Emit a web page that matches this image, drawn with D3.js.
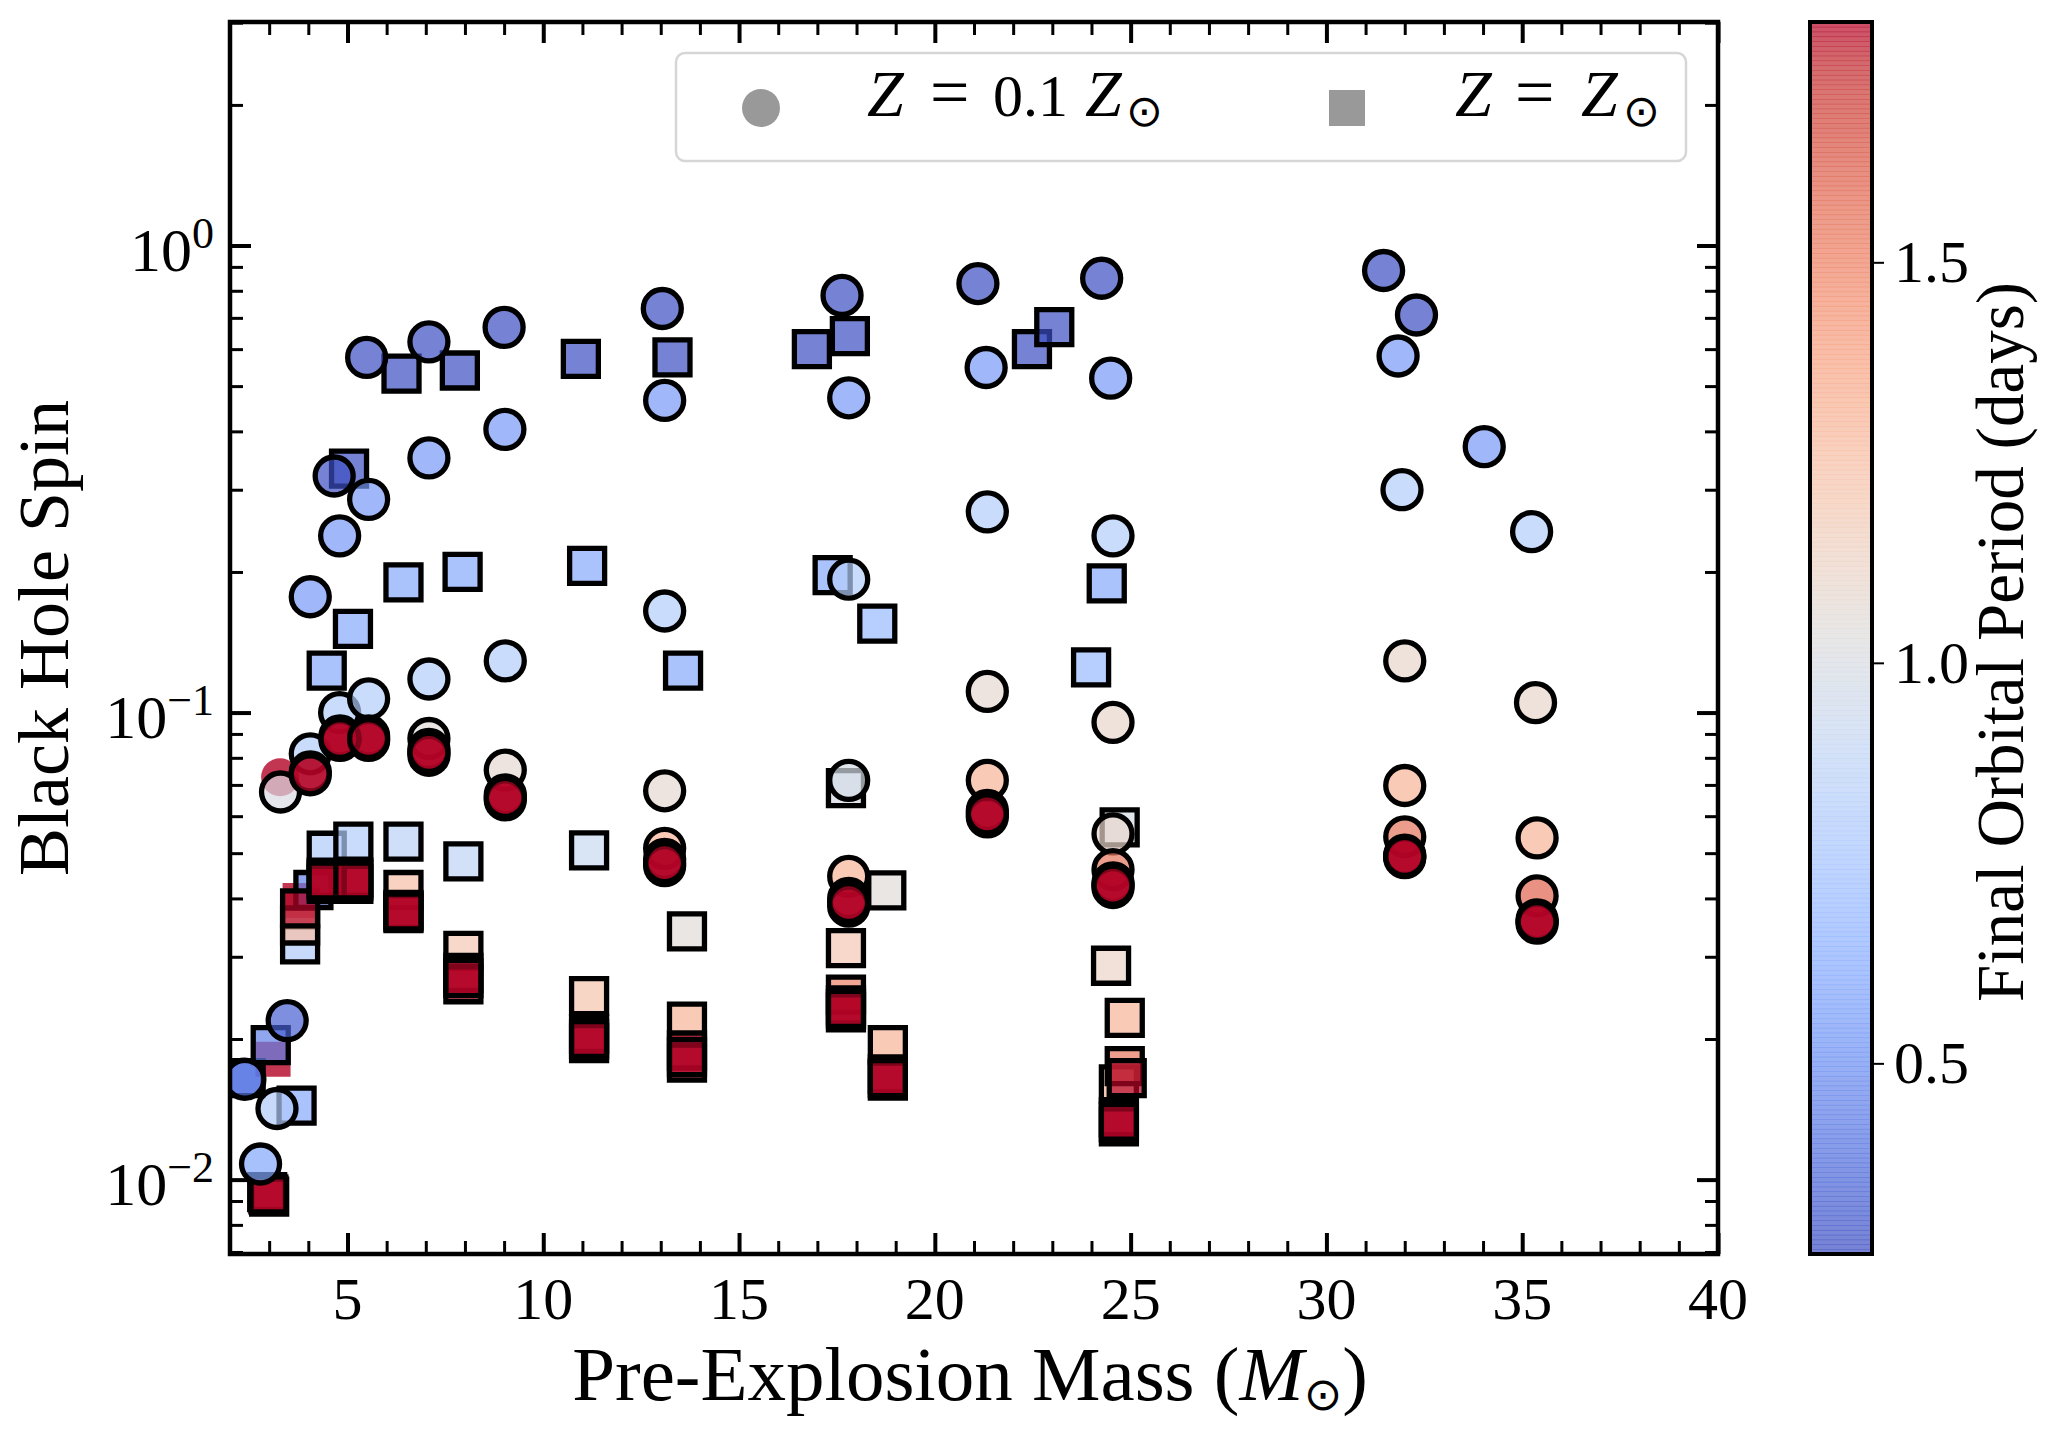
<!DOCTYPE html>
<html>
<head>
<meta charset="utf-8">
<script src="https://cdn.jsdelivr.net/npm/d3@7"></script>
<style>
  html, body { margin: 0; padding: 0; background: #ffffff; }
  svg { display: block; font-family: "Liberation Serif", "Times New Roman", serif; }
</style>
</head>
<body>
<div id="chart"></div>
<script>
// Z = 0.1 Zsun runs (circles)
const lowZMass = [2.38, 2.78, 3.20, 3.46, 3.29, 4.05, 4.05, 4.05, 4.05, 4.66, 4.80, 4.80, 4.81, 4.81,
  5.49, 5.54, 5.54, 5.54, 5.54, 7.08, 7.08, 7.08, 7.08, 7.08, 7.08, 9.00, 9.02, 9.03, 9.03, 9.03, 9.03,
  13.04, 13.10, 13.10, 13.10, 13.10, 13.10, 13.10, 17.63, 17.80, 17.80, 17.80, 17.80, 17.80, 17.80,
  21.10, 21.31, 21.34, 21.34, 21.34, 21.34, 21.34, 24.26, 24.49, 24.55, 24.55, 24.55, 24.55, 24.55, 24.55,
  31.46, 32.30, 31.83, 31.93, 32.00, 32.00, 32.00, 32.00, 32.00, 34.03, 35.24, 35.34, 35.38, 35.38, 35.38, 35.38,
  4.81, 5.54, 7.08, 9.03, 13.10, 17.80, 21.34, 24.55, 32.00, 35.38];
const lowZSpin = [0.0164, 0.0108, 0.0142, 0.0219, 0.0676, 0.0816, 0.0746, 0.0736, 0.177, 0.321, 0.239, 0.100, 0.0891, 0.0872,
  0.576, 0.286, 0.107, 0.0891, 0.0872, 0.622, 0.351, 0.118, 0.0880, 0.0834, 0.0810, 0.668, 0.404, 0.129, 0.0753, 0.0666, 0.0650,
  0.733, 0.466, 0.165, 0.0680, 0.0512, 0.0485, 0.0470, 0.782, 0.472, 0.193, 0.0716, 0.0446, 0.0400, 0.0385,
  0.829, 0.548, 0.269, 0.111, 0.0716, 0.0617, 0.0598, 0.851, 0.520, 0.239, 0.0953, 0.0550, 0.0461, 0.0432, 0.0422,
  0.884, 0.710, 0.580, 0.300, 0.129, 0.0698, 0.0542, 0.0495, 0.0489, 0.371, 0.244, 0.105, 0.0539, 0.0405, 0.0360, 0.0354,
  0.0880, 0.0880, 0.0822, 0.0658, 0.0477, 0.0392, 0.0607, 0.0427, 0.0492, 0.0357];
const lowZPeriod = [0.40, 0.60, 0.80, 0.33, 1.00, 0.82, 1.85, 1.85, 0.55, 0.27, 0.55, 0.82, 1.85, 1.85,
  0.27, 0.55, 0.82, 1.85, 1.85, 0.27, 0.55, 0.82, 1.05, 1.85, 1.85, 0.27, 0.55, 0.82, 1.08, 1.85, 1.85,
  0.27, 0.55, 0.82, 1.08, 1.30, 1.85, 1.85, 0.27, 0.55, 0.82, 0.98, 1.30, 1.85, 1.85,
  0.27, 0.55, 0.82, 1.08, 1.30, 1.85, 1.85, 0.27, 0.55, 0.82, 1.10, 1.10, 1.55, 1.85, 1.85,
  0.27, 0.27, 0.55, 0.82, 1.10, 1.30, 1.55, 1.85, 1.85, 0.55, 0.82, 1.10, 1.30, 1.60, 1.85, 1.85,
  1.85, 1.85, 1.85, 1.85, 1.85, 1.85, 1.85, 1.85, 1.85, 1.85];

// Z = Zsun runs (squares)
const solarMass = [2.40, 3.04, 3.70, 2.95, 3.00, 3.79, 3.79, 3.79, 4.13, 4.47, 4.47, 4.47, 5.15, 5.15, 5.15,
  4.47, 5.14, 5.04, 6.38, 6.43, 6.43, 6.43, 6.43, 6.43, 7.87, 7.94, 7.96, 7.96, 7.96, 7.96,
  10.96, 11.12, 11.17, 11.17, 11.17, 11.17, 13.30, 13.57, 13.67, 13.67, 13.67, 13.67,
  16.86, 17.83, 17.39, 18.53, 17.73, 18.76, 17.73, 17.73, 17.73, 17.73, 18.80, 18.80, 18.80,
  22.48, 23.05, 24.39, 23.99, 24.72, 24.50, 24.85, 24.70, 24.85, 24.90, 24.70, 24.70,
  2.98, 4.47, 5.15, 6.43, 7.96, 11.17, 13.67, 17.73, 18.80, 24.70];
const solarSpin = [0.0165, 0.0194, 0.0144, 0.0094, 0.0092, 0.0319, 0.0350, 0.0381, 0.0417, 0.0506, 0.0443, 0.0430, 0.0529, 0.0443, 0.0430,
  0.123, 0.151, 0.333, 0.532, 0.190, 0.0529, 0.0417, 0.0378, 0.0372, 0.540, 0.200, 0.0480, 0.0309, 0.0277, 0.0262,
  0.572, 0.206, 0.0507, 0.0247, 0.0205, 0.0196, 0.576, 0.123, 0.0340, 0.0218, 0.0189, 0.0178,
  0.600, 0.640, 0.197, 0.155, 0.0689, 0.0416, 0.0313, 0.0249, 0.0236, 0.0228, 0.0194, 0.0168, 0.0163,
  0.600, 0.669, 0.189, 0.125, 0.0568, 0.0287, 0.0222, 0.0160, 0.0175, 0.0165, 0.0136, 0.0130,
  0.0093, 0.0437, 0.0437, 0.0375, 0.0270, 0.0200, 0.0183, 0.0232, 0.0165, 0.0133];
const solarPeriod = [0.45, 0.45, 0.62, 1.85, 1.85, 0.80, 1.25, 1.85, 0.45, 0.80, 1.85, 1.85, 0.82, 1.85, 1.85,
  0.62, 0.62, 0.27, 0.27, 0.62, 0.85, 1.25, 1.85, 1.85, 0.27, 0.62, 0.88, 1.20, 1.85, 1.85,
  0.27, 0.62, 0.92, 1.22, 1.85, 1.85, 0.27, 0.62, 1.05, 1.30, 1.85, 1.85,
  0.27, 0.27, 0.62, 0.70, 0.98, 1.05, 1.20, 1.50, 1.85, 1.85, 1.30, 1.85, 1.85,
  0.27, 0.27, 0.62, 0.70, 0.98, 1.12, 1.30, 1.30, 1.55, 1.85, 1.85, 1.85,
  1.85, 1.85, 1.85, 1.85, 1.85, 1.85, 1.85, 1.85, 1.85, 1.85];

// a few markers drawn without an edge
const bareMass = [3.28, 3.10, 3.79];
const bareSpin = [0.0727, 0.0181, 0.0396];
const barePeriod = [1.85, 1.85, 1.85];
const bareShape = ["circle", "square", "square"];

// ticks
const massTicks = [5, 10, 15, 20, 25, 30, 35, 40];
const spinTicks = [0.01, 0.1, 1];
const spinTickExponents = ["\u22122", "\u22121", "0"];
const periodTicks = [0.5, 1.0, 1.5];

// colour map stops (matplotlib coolwarm)
const coolwarmStops = ["#3b4cc0", "#445acc", "#4d68d7", "#5775e1", "#6282ea", "#6c8ff1", "#779af7", "#82a6fb",
  "#8db0fe", "#98b9ff", "#a3c2fe", "#aec9fc", "#b8d0f9", "#c2d5f4", "#ccd9ee", "#d5dbe5", "#dddddd",
  "#e5d8d1", "#ecd3c5", "#f1ccb9", "#f5c4ad", "#f7bba0", "#f7b194", "#f7a687", "#f49a7b", "#f18d6f",
  "#ec7f63", "#e57058", "#de614d", "#d55042", "#cb3e38", "#c0282f", "#b40426"];
const periodMin = 0.262, periodMax = 1.80;

const W = 2059, H = 1439;
const plot = { left: 230, right: 1718, top: 22, bottom: 1254 };
const cbar = { left: 1810, right: 1872 };
const alpha = 0.7;
const fontFamily = '"Liberation Serif", "Times New Roman", serif';

const svg = d3.select("#chart").append("svg").attr("width", W).attr("height", H);

const x = d3.scaleLinear().domain([2, 40]).range([plot.left, plot.right]);
const y = d3.scaleLog().domain([0.00693, 3.01]).range([plot.bottom, plot.top]);
const cb = d3.scaleLinear().domain([periodMin, periodMax]).range([plot.bottom, plot.top]);
const color = d3.scaleLinear()
  .domain(coolwarmStops.map((_, i) => periodMin + (periodMax - periodMin) * i / (coolwarmStops.length - 1)))
  .range(coolwarmStops)
  .interpolate(d3.interpolateRgb)
  .clamp(true);

const toRows = (mass, spin, period, shape) =>
  mass.map((m, i) => ({ mass: m, spin: spin[i], period: period[i], shape: typeof shape === "string" ? shape : shape[i] }));

const lowZ = toRows(lowZMass, lowZSpin, lowZPeriod, "circle").sort((a, b) => a.period - b.period);
const solar = toRows(solarMass, solarSpin, solarPeriod, "square").sort((a, b) => a.period - b.period);
const bare = toRows(bareMass, bareSpin, barePeriod, bareShape);

const circleR = 19, squareSide = 35, edge = 5.3;
const symbolPath = (shape) =>
  shape === "circle"
    ? d3.symbol(d3.symbolCircle, Math.PI * circleR * circleR)()
    : d3.symbol(d3.symbolSquare, squareSide * squareSide)();

svg.append("clipPath").attr("id", "plot-clip")
  .append("rect").attr("x", plot.left).attr("y", plot.top)
  .attr("width", plot.right - plot.left).attr("height", plot.bottom - plot.top);

const marks = svg.append("g").attr("clip-path", "url(#plot-clip)");

function drawMarkers(rows, cls, withEdge) {
  marks.append("g").attr("class", cls)
    .selectAll("path")
    .data(rows)
    .join("path")
    .attr("d", (d) => symbolPath(d.shape))
    .attr("transform", (d) => `translate(${x(d.mass)},${y(d.spin)})`)
    .attr("fill", (d) => color(d.period))
    .attr("fill-opacity", withEdge ? alpha : 0.8)
    .attr("stroke", withEdge ? "#000" : "none")
    .attr("stroke-width", edge);
}

drawMarkers(bare, "bare", false);
drawMarkers(solar, "solar", true);
drawMarkers(lowZ, "lowz", true);

// ticks (inward on all four sides)
const majorLen = 21, minorLen = 13;
const massMinor = d3.range(3, 40).filter((v) => v % 5 !== 0);
const spinMinor = [];
[-3, -2, -1, 0].forEach((p) => d3.range(2, 10).forEach((k) => {
  const v = k * Math.pow(10, p);
  if (v > y.domain()[0] && v < y.domain()[1]) spinMinor.push(v);
}));

function tickAxis(axis, transform, ticks, len, width) {
  const g = svg.append("g").attr("transform", transform)
    .call(axis.tickValues(ticks).tickSizeInner(-len).tickSizeOuter(0).tickFormat(""));
  g.select(".domain").remove();
  g.selectAll(".tick line").attr("stroke", "#000").attr("stroke-width", width);
  return g;
}

tickAxis(d3.axisBottom(x), `translate(0,${plot.bottom})`, massMinor, minorLen, 3);
tickAxis(d3.axisBottom(x), `translate(0,${plot.bottom})`, massTicks, majorLen, 4);
tickAxis(d3.axisTop(x), `translate(0,${plot.top})`, massMinor, minorLen, 3);
tickAxis(d3.axisTop(x), `translate(0,${plot.top})`, massTicks, majorLen, 4);
tickAxis(d3.axisLeft(y), `translate(${plot.left},0)`, spinMinor, minorLen, 3);
tickAxis(d3.axisLeft(y), `translate(${plot.left},0)`, spinTicks, majorLen, 4);
tickAxis(d3.axisRight(y), `translate(${plot.right},0)`, spinMinor, minorLen, 3);
tickAxis(d3.axisRight(y), `translate(${plot.right},0)`, spinTicks, majorLen, 4);

// frame
svg.append("rect")
  .attr("x", plot.left).attr("y", plot.top)
  .attr("width", plot.right - plot.left).attr("height", plot.bottom - plot.top)
  .attr("fill", "none").attr("stroke", "#000").attr("stroke-width", 4.5);

// x tick labels
svg.append("g").selectAll("text")
  .data(massTicks)
  .join("text")
  .attr("x", (d) => x(d))
  .attr("y", plot.bottom + 65)
  .attr("text-anchor", "middle")
  .attr("font-size", 60)
  .attr("fill", "#000")
  .text((d) => d);

// y tick labels 10^n
const yLabels = svg.append("g").selectAll("text")
  .data(spinTicks)
  .join("text")
  .attr("x", plot.left - 16)
  .attr("y", (d) => y(d) + 25)
  .attr("text-anchor", "end")
  .attr("font-size", 62)
  .attr("fill", "#000");
yLabels.append("tspan").text("10");
yLabels.append("tspan").attr("dy", -23).attr("font-size", 44).text((d, i) => spinTickExponents[i]);

// axis titles
const xTitle = svg.append("text")
  .attr("x", (plot.left + plot.right) / 2 - 4)
  .attr("y", 1400)
  .attr("text-anchor", "middle")
  .attr("font-size", 77)
  .attr("fill", "#000");
xTitle.append("tspan").text("Pre-Explosion Mass (");
xTitle.append("tspan").attr("font-style", "italic").text("M");
xTitle.append("tspan").attr("font-size", 46).attr("dy", 10).attr("font-family", "DejaVu Sans").text("\u2299");
xTitle.append("tspan").attr("dy", -10).text(")");

svg.append("text")
  .attr("transform", `translate(68,${(plot.top + plot.bottom) / 2}) rotate(-90)`)
  .attr("text-anchor", "middle")
  .attr("font-size", 72)
  .attr("fill", "#000")
  .text("Black Hole Spin");

// legend
const legend = svg.append("g");
legend.append("rect")
  .attr("x", 676).attr("y", 53).attr("width", 1010).attr("height", 108).attr("rx", 9)
  .attr("fill", "#fff").attr("fill-opacity", 0.8)
  .attr("stroke", "#d6d6d6").attr("stroke-width", 2.5);
legend.append("path").attr("d", symbolPath("circle")).attr("transform", "translate(761,108)").attr("fill", "#999");
legend.append("path").attr("d", d3.symbol(d3.symbolSquare, 36 * 36)()).attr("transform", "translate(1347,108)").attr("fill", "#999");

// legend labels: each piece placed where it sits in the reference
function legendPiece(x0, text, opts = {}) {
  legend.append("text")
    .attr("x", x0)
    .attr("y", opts.sub ? 126 : 116)
    .attr("font-size", opts.size || (opts.sub ? 44 : 66))
    .attr("font-style", opts.italic ? "italic" : null)
    .attr("font-family", opts.sub ? "DejaVu Sans" : null)
    .attr("fill", "#000")
    .text(text);
}
legendPiece(867, "Z", { italic: true });
legendPiece(930, "=", { size: 70 });
legendPiece(993, "0.1", { size: 60 });
legendPiece(1085, "Z", { italic: true });
legendPiece(1126, "\u2299", { sub: true });
legendPiece(1455, "Z", { italic: true });
legendPiece(1515, "=", { size: 70 });
legendPiece(1581, "Z", { italic: true });
legendPiece(1623, "\u2299", { sub: true });

// colour bar
const cbarG = svg.append("g");
const nSeg = 256;
const segEdges = d3.range(nSeg + 1).map((i) => periodMin + (periodMax - periodMin) * i / nSeg);
cbarG.selectAll("rect.seg")
  .data(d3.range(nSeg))
  .join("rect")
  .attr("class", "seg")
  .attr("x", cbar.left)
  .attr("width", cbar.right - cbar.left)
  .attr("y", (i) => cb(segEdges[i + 1]))
  .attr("height", (i) => cb(segEdges[i]) - cb(segEdges[i + 1]) + 0.6)
  .attr("fill", (i) => color((segEdges[i] + segEdges[i + 1]) / 2))
  .attr("fill-opacity", alpha);
cbarG.append("rect")
  .attr("x", cbar.left).attr("y", plot.top)
  .attr("width", cbar.right - cbar.left).attr("height", plot.bottom - plot.top)
  .attr("fill", "none").attr("stroke", "#000").attr("stroke-width", 4);

const cbAxis = svg.append("g")
  .attr("transform", `translate(${cbar.right + 2},0)`)
  .call(d3.axisRight(cb).tickValues(periodTicks).tickSize(10).tickPadding(10).tickFormat(d3.format(".1f")));
cbAxis.select(".domain").remove();
cbAxis.selectAll(".tick line").attr("stroke", "#000").attr("stroke-width", 2);
cbAxis.selectAll(".tick text").attr("font-size", 60).attr("font-family", fontFamily).attr("fill", "#000");

svg.append("text")
  .attr("transform", `translate(2023,642) rotate(-90)`)
  .attr("text-anchor", "middle")
  .attr("font-size", 67)
  .attr("fill", "#000")
  .text("Final Orbital Period (days)");
</script>
</body>
</html>
